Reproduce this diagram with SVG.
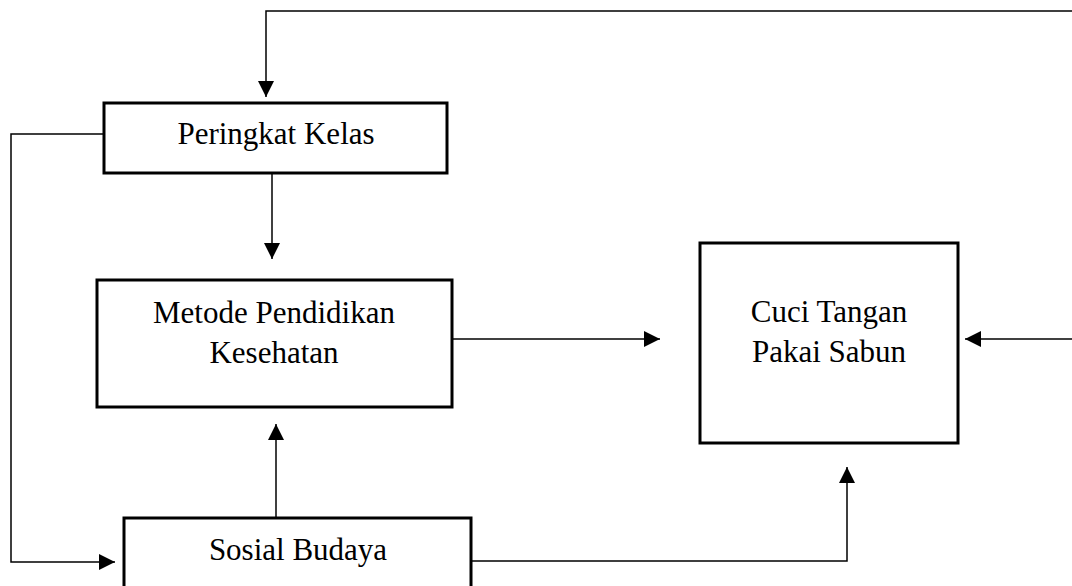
<svg xmlns="http://www.w3.org/2000/svg" width="1072" height="586" viewBox="0 0 1072 586">
<style>
.box{fill:#fff;stroke:#000;stroke-width:3}
.ln{fill:none;stroke:#000;stroke-width:1.5}
text{font-family:"Liberation Serif","Times New Roman",serif;font-size:31px;fill:#000;text-anchor:middle}
</style>
<defs>
<marker id="ah" viewBox="0 0 16 16" refX="16" refY="8" markerWidth="16" markerHeight="16" markerUnits="userSpaceOnUse" orient="auto">
<path d="M0,0 L16,8 L0,16 Z" fill="#000"/>
</marker>
</defs>
<rect width="1072" height="586" fill="#fff"/>
<g id="connectors">
<path class="ln" d="M1072,11 H266 V97" marker-end="url(#ah)"/>
<path class="ln" d="M104,134 H11 V562 H115" marker-end="url(#ah)"/>
<path class="ln" d="M272,174 V259" marker-end="url(#ah)"/>
<path class="ln" d="M276,518 V424" marker-end="url(#ah)"/>
<path class="ln" d="M452,339 H660" marker-end="url(#ah)"/>
<path class="ln" d="M1072,339 H965" marker-end="url(#ah)"/>
<path class="ln" d="M471,561 H847 V467" marker-end="url(#ah)"/>
</g>
<g id="peringkat">
<rect class="box" x="104" y="103" width="343" height="70"/>
<text x="276" y="144">Peringkat Kelas</text>
</g>
<g id="metode">
<rect class="box" x="97" y="280" width="355" height="127"/>
<text x="274" y="323">Metode Pendidikan</text>
<text x="274" y="363">Kesehatan</text>
</g>
<g id="cuci">
<rect class="box" x="700" y="243" width="258" height="200"/>
<text x="829" y="322">Cuci Tangan</text>
<text x="829" y="362">Pakai Sabun</text>
</g>
<g id="sosial">
<rect class="box" x="124" y="518" width="347" height="80"/>
<text x="298" y="560">Sosial Budaya</text>
</g>
</svg>
